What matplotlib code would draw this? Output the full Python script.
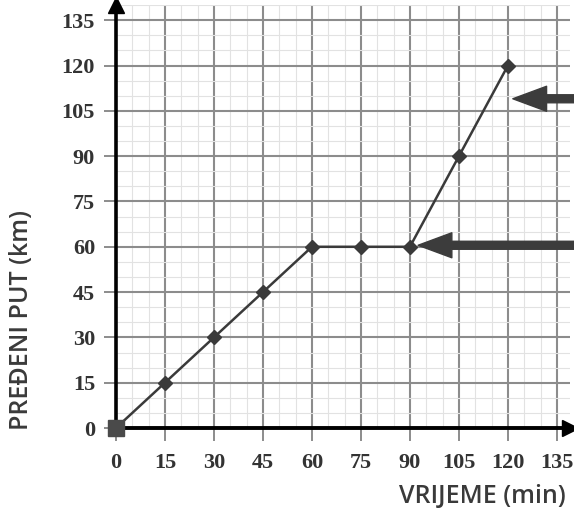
import matplotlib.pyplot as plt
from matplotlib.ticker import MultipleLocator

# data
vrijeme = [0, 15, 30, 45, 60, 75, 90, 105, 120]     # min
put = [0, 15, 30, 45, 60, 60, 60, 90, 120]           # km
ticks = list(range(0, 136, 15))

# the two pointer arrows on the right (tip in data units)
arrow_tips = [(121.5, 109), (92.5, 60.5)]

fig = plt.figure(figsize=(5.74, 5.12), dpi=100)
ax = fig.add_axes([0.202, 0.164, 0.791, 0.826])

ax.set_xlim(0, 139)
ax.set_ylim(0, 140)
ax.set_xticks(ticks)
ax.set_yticks(ticks)
ax.xaxis.set_minor_locator(MultipleLocator(5))
ax.yaxis.set_minor_locator(MultipleLocator(5))

ax.grid(which='minor', color='#e2e2e2', lw=0.8)
ax.grid(which='major', color='#8c8c8c', lw=1.5)
ax.set_axisbelow(True)

tick_font = dict(family='Liberation Serif', weight='bold', size=16)
ax.set_xticklabels([str(t) for t in ticks], **tick_font, color='#333333')
ax.set_yticklabels([str(t) for t in ticks], **tick_font, color='#333333')
ax.tick_params(which='major', length=9, width=1.4, color='#8c8c8c', pad=6)
ax.tick_params(axis='x', which='major', pad=9)
ax.tick_params(which='minor', length=0)

for s in ['top', 'right']:
    ax.spines[s].set_visible(False)
ax.spines['left'].set_linewidth(2.6)
ax.spines['bottom'].set_linewidth(2.8)
ax.plot(1, 0, '>k', ms=11, transform=ax.get_yaxis_transform(), clip_on=False)
ax.plot(0, 1, '^k', ms=11, transform=ax.get_xaxis_transform(), clip_on=False)

ax.plot(vrijeme, put, color='#3a3a3a', lw=1.8, zorder=3)
ax.plot(vrijeme[1:], put[1:], 'D', color='#3a3a3a', ms=7, zorder=4)
ax.plot(vrijeme[0], put[0], 's', color='#4a4a4a', ms=12, zorder=4, clip_on=False)

for tx, ty in arrow_tips:
    ax.annotate('', xy=(tx, ty), xytext=(141, ty), xycoords='data',
                textcoords='data', annotation_clip=False,
                arrowprops=dict(arrowstyle='simple,head_length=1.35,head_width=1.0,tail_width=0.32',
                                color='#3c3c3c', mutation_scale=18, shrinkA=0, shrinkB=0))

label_font = dict(family='Open Sans', weight='semibold', size=18, color='#3a3a3a')
fig.text(0.037, 0.375, 'PREĐENI PUT (km)', rotation=90, ha='center', va='center', **label_font)
fig.text(0.985, 0.031, 'VRIJEME (min)', ha='right', va='center', **label_font)

fig.savefig('out.png', dpi=100)
